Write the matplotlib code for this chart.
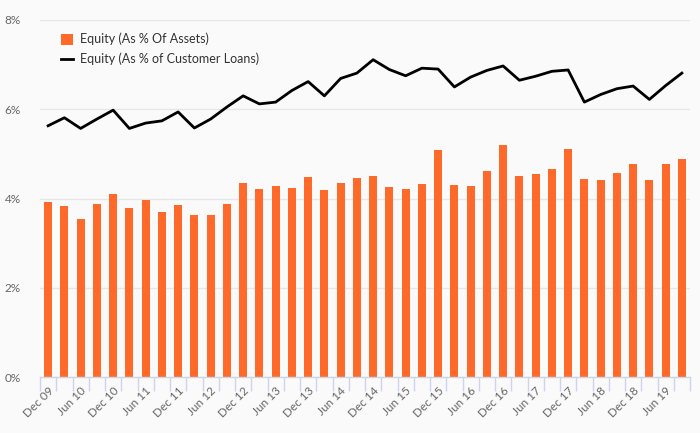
import matplotlib
matplotlib.use("Agg")
import matplotlib.pyplot as plt
import numpy as np

quarters = ["Dec 09", "Mar 10", "Jun 10", "Sep 10", "Dec 10", "Mar 11", "Jun 11", "Sep 11",
            "Dec 11", "Mar 12", "Jun 12", "Sep 12", "Dec 12", "Mar 13", "Jun 13", "Sep 13",
            "Dec 13", "Mar 14", "Jun 14", "Sep 14", "Dec 14", "Mar 15", "Jun 15", "Sep 15",
            "Dec 15", "Mar 16", "Jun 16", "Sep 16", "Dec 16", "Mar 17", "Jun 17", "Sep 17",
            "Dec 17", "Mar 18", "Jun 18", "Sep 18", "Dec 18", "Mar 19", "Jun 19", "Sep 19"]

equity_assets = [3.92, 3.83, 3.54, 3.87, 4.10, 3.78, 3.96, 3.69, 3.85, 3.64,
                 3.64, 3.87, 4.35, 4.21, 4.28, 4.23, 4.48, 4.19, 4.35, 4.46,
                 4.50, 4.26, 4.21, 4.32, 5.09, 4.30, 4.28, 4.62, 5.20, 4.50,
                 4.55, 4.66, 5.11, 4.44, 4.41, 4.57, 4.77, 4.41, 4.77, 4.89]

equity_loans = [5.63, 5.81, 5.57, 5.78, 5.98, 5.57, 5.69, 5.74, 5.94, 5.58,
                5.78, 6.05, 6.30, 6.12, 6.16, 6.42, 6.62, 6.30, 6.69, 6.81,
                7.11, 6.89, 6.75, 6.92, 6.90, 6.50, 6.72, 6.87, 6.97, 6.65,
                6.74, 6.85, 6.88, 6.16, 6.33, 6.46, 6.52, 6.22, 6.53, 6.81]

y_ticks = [0, 2, 4, 6, 8]
y_tick_labels = ["0%", "2%", "4%", "6%", "8%"]

plt.rcParams['font.family'] = ['Lato', 'DejaVu Sans']

bg = "#fafafa"
fig = plt.figure(figsize=(7, 4.33), dpi=100, facecolor=bg)
ax = fig.add_axes([40/700, 56/433, 650/700, 357/433], facecolor=bg)

x = np.arange(len(quarters))
bars = ax.bar(x, equity_assets, width=0.5, color="#ff6a2a", label="Equity (As % Of Assets)", zorder=2)
line, = ax.plot(x, equity_loans, color="#000000", lw=2, label="Equity (As % of Customer Loans)", zorder=3)

ax.set_xlim(-0.5, len(quarters) - 0.5)
ax.set_ylim(0, 8)

ax.set_yticks(y_ticks)
ax.set_yticklabels(y_tick_labels)
ax.yaxis.grid(True, color="#e6e6e6", lw=1, zorder=0)
ax.set_axisbelow(True)
ax.tick_params(axis='y', length=0, pad=14, labelsize=8.5, labelcolor="#666666")

ax.set_xticks(x[::2])
ax.set_xticklabels(quarters[::2], rotation=45, ha='right', va='top', rotation_mode='anchor')
ax.tick_params(axis='x', which='major', length=0, pad=6, labelsize=8.5, labelcolor="#666666")
ax.set_xticks(np.arange(len(quarters) + 1) - 0.5, minor=True)
ax.tick_params(axis='x', which='minor', length=10, width=1, color="#ccd6eb")

for s in ['top', 'right', 'left']:
    ax.spines[s].set_visible(False)
ax.spines['bottom'].set_color("#ccd6eb")
ax.spines['bottom'].set_linewidth(1)

leg = ax.legend([bars, line], ["Equity (As % Of Assets)", "Equity (As % of Customer Loans)"],
                loc='upper left', bbox_to_anchor=(0.02, 0.985), frameon=False,
                fontsize=9, labelcolor="#333333", handlelength=1.0, handleheight=1.0,
                handletextpad=0.6, labelspacing=0.6, borderaxespad=0.2)

fig.savefig("out.png", dpi=100, facecolor=bg)
